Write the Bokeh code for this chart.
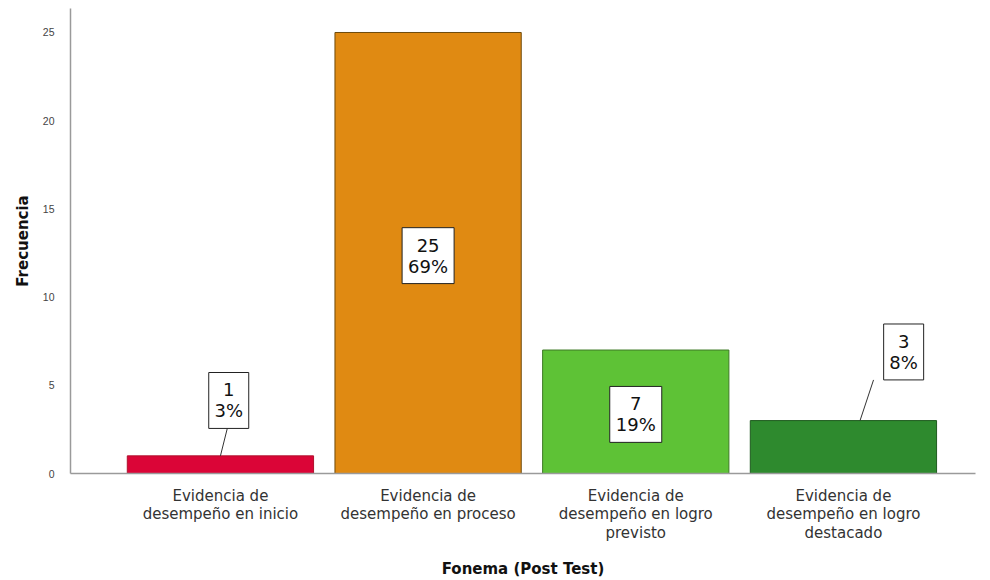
from bokeh.plotting import figure
from bokeh.models import ColumnDataSource, FixedTicker, Range1d
from bokeh.core.properties import value
from bokeh.embed import file_html
from bokeh.resources import INLINE

categories = ["Evidencia de\ndesempeño en inicio",
              "Evidencia de\ndesempeño en proceso",
              "Evidencia de\ndesempeño en logro\nprevisto",
              "Evidencia de\ndesempeño en logro\ndestacado"]
frecuencias = [1, 25, 7, 3]
colors = ["#db0537", "#e08a12", "#5ec236", "#2e8a2e"]
edge_colors = ["#b0102c", "#6e4a0c", "#3f7a26", "#1e5a1e"]
y_ticks = [0, 5, 10, 15, 20, 25]

total = sum(frecuencias)
xs = list(range(1, len(categories) + 1))
pct = [f"{round(100 * v / total)}%" for v in frecuencias]
label_text = [f"{v}\n{p}" for v, p in zip(frecuencias, pct)]

# label placement (style): inside for tall bars, above with a leader line for short bars
BOX_H = 3.17
lab_x, lab_y, box_w = [], [], []
lead_x0, lead_y0, lead_x1, lead_y1 = [], [], [], []
for i, (x, v) in enumerate(zip(xs, frecuencias)):
    box_w.append(52 if len(pct[i]) > 2 else 40)
    if v >= 5:
        lab_x.append(x)
        lab_y.append(v / 2 - 0.15)
    else:
        dx, dy, lx0, lx1 = (0.04, 3.14, 0.033, 0.0) if i == 0 else (0.29, 3.89, 0.145, 0.08)
        lab_x.append(x + dx)
        lab_y.append(v + dy)
        lead_x0.append(x + lx0)
        lead_y0.append(v + dy - BOX_H / 2)
        lead_x1.append(x + lx1)
        lead_y1.append(v)

src = ColumnDataSource(dict(x=xs, top=frecuencias, color=colors, edge=edge_colors))
lab = ColumnDataSource(dict(x=lab_x, y=lab_y, text=label_text, w=box_w))

p = figure(width=990, height=580, output_backend="svg", toolbar_location=None,
           x_range=Range1d(0.278, 4.636), y_range=Range1d(0, 26.36),
           min_border_left=70, min_border_right=15, min_border_top=8, min_border_bottom=107)
p.outline_line_color = None
p.xgrid.visible = False
p.ygrid.visible = False

p.vbar(x="x", top="top", width=0.897, source=src, fill_color="color",
       line_color="edge", line_width=1)

p.segment(lead_x0, lead_y0, lead_x1, lead_y1, line_color="#333333", line_width=1)
p.rect(x="x", y="y", width="w", width_units="screen", height=BOX_H, source=lab,
       fill_color="white", line_color="#222222", line_width=1)
p.text(x="x", y="y", text="text", source=lab, text_align="center", text_baseline="middle",
       text_font=value("DejaVu Sans"), text_font_size="18px", text_color="#111111",
       text_line_height=1.0)

p.xaxis.ticker = FixedTicker(ticks=xs)
p.xaxis.major_label_overrides = {x: c for x, c in zip(xs, categories)}
p.xaxis.axis_label = "Fonema (Post Test)"
p.yaxis.ticker = FixedTicker(ticks=y_ticks)
p.yaxis.axis_label = "Frecuencia"

for ax in (p.xaxis, p.yaxis):
    ax.axis_line_color = "#9a9a9a"
    ax.axis_line_width = 1.5
    ax.major_tick_line_color = None
    ax.minor_tick_line_color = None
    ax.axis_label_text_font = "DejaVu Sans"
    ax.axis_label_text_font_style = "bold"
    ax.axis_label_text_font_size = "15px"
    ax.axis_label_text_color = "#111111"

p.xaxis.major_label_text_font = "DejaVu Sans"
p.xaxis.major_label_text_font_size = "15px"
p.xaxis.major_label_text_line_height = 1.03
p.xaxis.major_label_text_color = "#333333"
p.xaxis.major_label_standoff = 7
p.xaxis.axis_label_standoff = 15
p.yaxis.major_label_text_font = "Liberation Sans"
p.yaxis.major_label_text_font_size = "10.5px"
p.yaxis.major_label_text_color = "#444444"
p.yaxis.major_label_standoff = 10
p.yaxis.axis_label_standoff = 8

open("out.html", "w").write(file_html(p, INLINE))
